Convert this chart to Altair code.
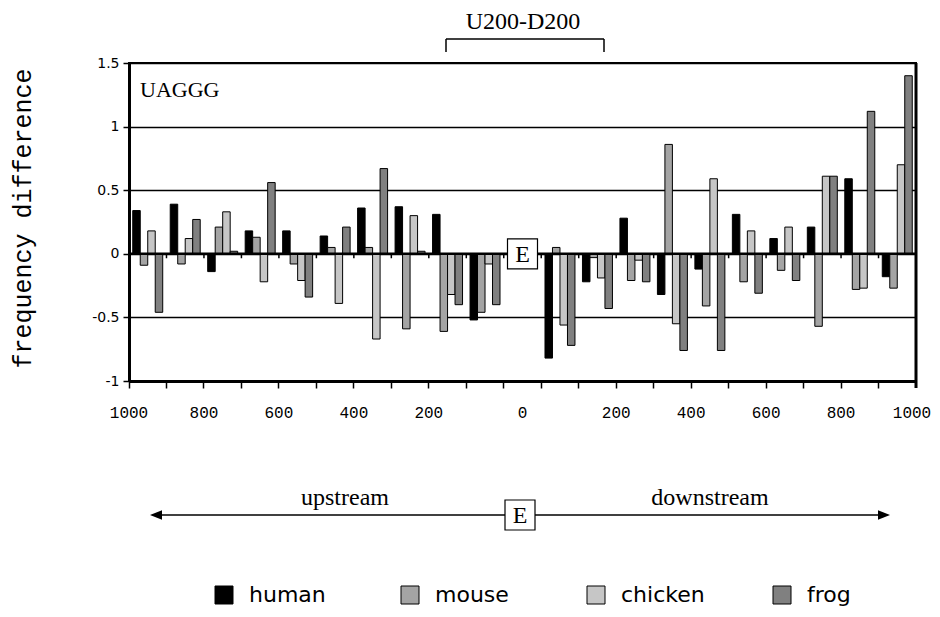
import altair as alt
import pandas as pd

# ---------------- data ----------------
species = ["human", "mouse", "chicken", "frog"]
colors = ["#000000", "#a4a4a4", "#c6c6c6", "#808080"]

# 21 bins: 8 upstream (1000..200 nt), 5 inside U200-D200, 8 downstream (200..1000 nt)
bins = list(range(21))

human   = [0.34, 0.39, -0.14, 0.18, 0.18, 0.14, 0.36, 0.37, 0.31, -0.52, 0.0, -0.82, -0.22, 0.28, -0.32, -0.12, 0.31, 0.12, 0.21, 0.59, -0.18]
mouse   = [-0.09, -0.08, 0.21, 0.13, -0.08, 0.05, 0.05, -0.59, -0.61, -0.46, 0.0, 0.05, -0.03, -0.21, 0.86, -0.41, -0.22, -0.13, -0.57, -0.28, -0.27]
chicken = [0.18, 0.12, 0.33, -0.22, -0.21, -0.39, -0.67, 0.30, -0.32, -0.08, 0.0, -0.56, -0.19, -0.05, -0.55, 0.59, 0.18, 0.21, 0.61, -0.27, 0.70]
frog    = [-0.46, 0.27, 0.02, 0.56, -0.34, 0.21, 0.67, 0.02, -0.40, -0.40, 0.0, -0.72, -0.43, -0.22, -0.76, -0.76, -0.31, -0.21, 0.61, 1.12, 1.40]

# tick labels (at bin boundaries)
boundary_bins = [0, 2, 4, 6, 8, 13, 15, 17, 19]
boundary_labels = ["1000", "800", "600", "400", "200", "200", "400", "600", "800"]
center_bin = [10]
center_label = ["0"]
end_bin = [20]
end_label = ["1000"]

y_ticks = [-1, -0.5, 0, 0.5, 1, 1.5]
motif = ["UAGGG"]
region = ["U200-D200"]
exon = ["E"]
upstream = ["upstream"]
downstream = ["downstream"]

# ---------------- build ----------------
rows = []
for sp, vals in zip(species, [human, mouse, chicken, frog]):
    for b, v in zip(bins, vals):
        rows.append({"bin": b, "species": sp, "value": v})
df = pd.DataFrame(rows)

W, H = 787, 318

xscale = alt.Scale(paddingInner=0, paddingOuter=0)
yscale = alt.Scale(domain=[-1, 1.5], nice=False, zero=False)

xaxis = alt.Axis(bandPosition=0, labels=False, title="", ticks=True, tickSize=7,
                 tickWidth=1.5, tickColor="black", domainColor="black", domainWidth=3,
                 grid=False)
yaxis = alt.Axis(values=y_ticks, labelExpr="toString(datum.value)", labelFont="DejaVu Sans",
                 labelFontSize=14, labelColor="black", labelPadding=4, tickSize=6,
                 tickWidth=1.5, tickColor="black", domainColor="black", domainWidth=3,
                 grid=True, gridColor="black", gridWidth=1.5, gridOpacity=1,
                 title="frequency difference", titleFont="Liberation Mono",
                 titleFontSize=25, titleFontWeight="normal", titleColor="black",
                 titleX=-99, titleY=155, titleAngle=270, titleAlign="center",
                 titleBaseline="alphabetic")

bars = alt.Chart(df).mark_bar(stroke="black", strokeWidth=1).encode(
    x=alt.X("bin:O", scale=xscale, axis=xaxis),
    xOffset=alt.XOffset("species:N", sort=species,
                        scale=alt.Scale(domain=species, paddingOuter=0.5, paddingInner=0)),
    y=alt.Y("value:Q", scale=yscale, axis=yaxis),
    color=alt.Color("species:N", sort=species,
                    scale=alt.Scale(domain=species, range=colors),
                    legend=alt.Legend(title="", orient="none", legendX=84, legendY=521,
                                      direction="horizontal", columns=4, gridAlign="all",
                                      columnPadding=66, symbolType="square", symbolSize=324,
                                      symbolStrokeColor="black", symbolStrokeWidth=1,
                                      labelFont="DejaVu Sans", labelFontSize=22,
                                      labelOffset=14, labelColor="black")),
)

zero_df = pd.DataFrame({"y": [0]})
zero_rule = alt.Chart(zero_df).mark_rule(color="black", strokeWidth=2.5).encode(
    y=alt.Y("y:Q", scale=yscale, axis=yaxis)
)

tick_df = pd.DataFrame({"bin": bins[1:]})
zero_ticks = alt.Chart(tick_df).mark_rule(color="black", strokeWidth=1.5).encode(
    x=alt.X("bin:O", bandPosition=0, scale=xscale, axis=xaxis),
    y=alt.datum(0),
    y2=alt.datum(-0.035),
)

right_rule = alt.Chart(zero_df).mark_rule(color="black", strokeWidth=3).encode(
    x=alt.value(W), y=alt.value(0), y2=alt.value(H + 7)
)

ebox_df = pd.DataFrame({"bin": center_bin, "t": exon})
ebox = alt.Chart(ebox_df).mark_point(shape="square", size=900, filled=True, fill="white",
                                     stroke="black", strokeWidth=1.2, opacity=1).encode(
    x=alt.X("bin:O", scale=xscale, axis=xaxis),
    y=alt.datum(0),
)
etext = alt.Chart(ebox_df).mark_text(font="Liberation Serif", fontSize=24, color="black",
                                     baseline="middle", dy=1).encode(
    x=alt.X("bin:O", scale=xscale, axis=xaxis),
    y=alt.datum(0),
    text="t:N",
)

lab_font = dict(font="Liberation Mono", fontSize=16, color="black", baseline="alphabetic")
lab1 = alt.Chart(pd.DataFrame({"bin": boundary_bins, "t": boundary_labels})).mark_text(**lab_font).encode(
    x=alt.X("bin:O", bandPosition=0, scale=xscale, axis=xaxis), y=alt.value(355), text="t:N")
lab2 = alt.Chart(pd.DataFrame({"bin": center_bin, "t": center_label})).mark_text(**lab_font).encode(
    x=alt.X("bin:O", bandPosition=0.5, scale=xscale, axis=xaxis), y=alt.value(355), text="t:N")
lab3 = alt.Chart(pd.DataFrame({"bin": end_bin, "t": end_label})).mark_text(dx=-4, **lab_font).encode(
    x=alt.X("bin:O", bandPosition=1, scale=xscale, axis=xaxis), y=alt.value(355), text="t:N")

motif_text = alt.Chart(pd.DataFrame({"t": motif})).mark_text(
    font="Liberation Serif", fontSize=22, color="black", align="left", baseline="alphabetic").encode(
    x=alt.value(11), y=alt.value(34), text="t:N")

region_text = alt.Chart(pd.DataFrame({"t": region})).mark_text(
    font="Liberation Serif", fontSize=24, color="black", align="center", baseline="alphabetic").encode(
    x=alt.value(394), y=alt.value(-34), text="t:N")

br_h = alt.Chart(zero_df).mark_rule(color="black", strokeWidth=1.5).encode(
    x=alt.value(317), x2=alt.value(475), y=alt.value(-24))
br_l = alt.Chart(zero_df).mark_rule(color="black", strokeWidth=1.5).encode(
    x=alt.value(317), y=alt.value(-24), y2=alt.value(-11))
br_r = alt.Chart(zero_df).mark_rule(color="black", strokeWidth=1.5).encode(
    x=alt.value(475), y=alt.value(-24), y2=alt.value(-11))

arrow_line = alt.Chart(zero_df).mark_rule(color="black", strokeWidth=1.5).encode(
    x=alt.value(26), x2=alt.value(757), y=alt.value(452))
arrow_l = alt.Chart(zero_df).mark_point(shape="M-1,0L1,-0.8L1,0.8Z", size=144, filled=True,
                                        color="black", opacity=1).encode(
    x=alt.value(27), y=alt.value(452))
arrow_r = alt.Chart(zero_df).mark_point(shape="M1,0L-1,-0.8L-1,0.8Z", size=144, filled=True,
                                        color="black", opacity=1).encode(
    x=alt.value(755), y=alt.value(452))

ebox2 = alt.Chart(pd.DataFrame({"t": exon})).mark_point(shape="square", size=900, filled=True,
                                                        fill="white", stroke="black",
                                                        strokeWidth=1.2, opacity=1).encode(
    x=alt.value(391), y=alt.value(452))
etext2 = alt.Chart(pd.DataFrame({"t": exon})).mark_text(font="Liberation Serif", fontSize=24,
                                                        color="black", baseline="middle", dy=1).encode(
    x=alt.value(391), y=alt.value(452), text="t:N")

up_text = alt.Chart(pd.DataFrame({"t": upstream})).mark_text(
    font="Liberation Serif", fontSize=24, color="black", align="center", baseline="alphabetic").encode(
    x=alt.value(216), y=alt.value(442), text="t:N")
down_text = alt.Chart(pd.DataFrame({"t": downstream})).mark_text(
    font="Liberation Serif", fontSize=24, color="black", align="center", baseline="alphabetic").encode(
    x=alt.value(581), y=alt.value(442), text="t:N")

chart = alt.layer(
    bars, zero_rule, zero_ticks, right_rule, ebox, etext, lab1, lab2, lab3,
    motif_text, region_text, br_h, br_l, br_r,
    arrow_line, arrow_l, arrow_r, ebox2, etext2, up_text, down_text,
).properties(
    width=W, height=H,
    autosize=alt.AutoSizeParams(type="none"),
    padding={"left": 121, "top": 55, "right": 16, "bottom": 227},
    background="white",
).configure_view(stroke="black", strokeWidth=2)

chart.save("out.html", embed_options={"renderer": "svg", "actions": False})
